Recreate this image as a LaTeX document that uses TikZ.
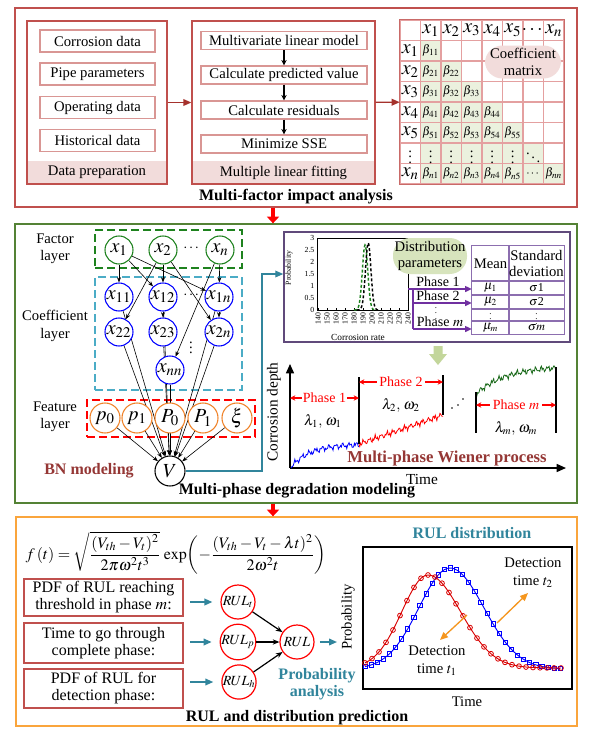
\documentclass[tikz,border=0pt]{standalone}
\usepackage{amsmath}
\usepackage{mathptmx}
\usepackage[no-math]{fontspec}
\setmainfont{Liberation Serif}
\usetikzlibrary{arrows.meta,calc}
\definecolor{secred}{RGB}{192,80,77}
\definecolor{boxpink}{RGB}{217,150,148}
\definecolor{bandpink}{RGB}{242,220,219}
\definecolor{darkred}{RGB}{165,50,45}
\definecolor{secgreen}{RGB}{84,130,53}
\definecolor{secorange}{RGB}{250,165,60}
\definecolor{cellgreen}{RGB}{235,241,222}
\definecolor{gridpink}{RGB}{228,160,160}
\definecolor{lgreen}{RGB}{215,228,189}
\definecolor{tealc}{RGB}{49,133,156}
\definecolor{purp}{RGB}{112,48,160}
\definecolor{purpl}{RGB}{140,110,175}
\definecolor{purbox}{RGB}{96,74,123}
\definecolor{bnred}{RGB}{149,55,53}
\definecolor{cyandash}{RGB}{75,172,198}
\definecolor{featorange}{RGB}{240,130,40}
\definecolor{fgreen}{RGB}{30,130,30}
\definecolor{arrgreen}{RGB}{195,214,155}
\definecolor{orarrow}{RGB}{245,150,30}
\pgfdeclarelayer{bg}
\pgfsetlayers{bg,main}
\tikzset{
 sz/.style 2 args={minimum width=#1*0.75pt,minimum height=#2*0.75pt,inner sep=0pt},
 sect/.style={draw=#1,line width=1pt},
 item/.style={draw=boxpink,line width=1pt,sz={115}{22}},
 fitem/.style={draw=boxpink,line width=1pt,sz={166}{18}},
 outerbox/.style={draw=secred,line width=1pt},
 band/.style={fill=bandpink},
 ttl/.style={font=\fontsize{12}{14}\selectfont\bfseries},
 fac/.style={circle,draw=fgreen,line width=0.8pt,fill=white,minimum size=28*0.75pt,inner sep=0pt,font=\fontsize{15}{15}\selectfont},
 coef/.style={fac,draw=blue},
 feat/.style={fac,draw=featorange,minimum size=30*0.75pt},
 vnode/.style={fac,draw=black,minimum size=30*0.75pt},
 bnedge/.style={black,line width=0.45pt,-{Stealth[length=4pt,width=3pt]}},
 lay/.style={align=center,font=\fontsize{11}{13}\selectfont},
 darrow/.style={darkred,line width=1pt,-{Triangle[length=6pt,width=5pt]}},
 farrow/.style={black,line width=0.8pt,-{Stealth[length=4pt,width=4pt]}},
 hdr/.style={inner sep=0pt,font=\fontsize{15}{15}\selectfont},
 bet/.style={inner sep=0pt,font=\fontsize{9}{9}\selectfont},
 dbox/.style={dashed,dash pattern=on 6pt off 3pt,line width=1pt},
 parrow/.style={purp,line width=1pt,-{Triangle[length=5pt,width=4.5pt]}},
 tarrow/.style={tealc,line width=1.2pt,-{Triangle[length=6pt,width=5pt]}},
 karrow/.style={black,line width=0.9pt,-{Stealth[length=5pt,width=4pt]}},
 rarrow/.style={red,line width=0.8pt,{Stealth[length=4pt,width=4pt]}-{Stealth[length=4pt,width=4pt]}},
 bigred/.style={red,line width=2.5pt,-{Triangle[length=5pt,width=9pt]}},
 rbox/.style={draw=secred,line width=1pt,align=center,font=\fontsize{12}{12.8}\selectfont},
 rcirc/.style={circle,draw=red,line width=0.9pt,fill=white,minimum size=34*0.75pt,inner sep=0pt,font=\fontsize{10.5}{11}\selectfont},
 tick/.style={inner sep=0.3pt,font=\fontsize{5.8}{6}\selectfont},
 oarrow/.style={orarrow,line width=1pt,-{Triangle[length=6pt,width=5pt]}},
 wlab/.style={font=\fontsize{11}{13}\selectfont},
 tcell/.style={inner sep=0pt,font=\fontsize{9.5}{10}\selectfont}
}
\begin{document}
\begin{tikzpicture}[x=0.75pt,y=-0.75pt,font=\fontsize{11}{13}\selectfont]
\useasboundingbox (0,0) rectangle (599,740);
\begin{pgfonlayer}{bg}
\fill[white] (0,0) rectangle (599,740);
\end{pgfonlayer}

% ---------------- sections ----------------
\node (sec1) [sect=secred, sz={562}{199}] at (296,107.5) {};
\node (sec2) [sect=secgreen, sz={562}{279}] at (296,363.5) {};
\node (sec3) [sect=secorange, sz={561}{209}] at (296.5,621.5) {};
\coordinate (xa) at (273,0);
\draw[bigred] (sec1.south -| xa) -- (sec2.north -| xa);
\draw[bigred] (sec2.south -| xa) -- (sec3.north -| xa);

% ---------------- section 1 ----------------
\node (dpband) [band, sz={140}{23}] at (97,172.5) {Data preparation};
\node (dp) [outerbox, sz={140}{163}] at (97,102.5) {};
\foreach \nm/\yy/\tx in {d1/41/Corrosion data, d2/74/Pipe parameters, d3/107.5/Operating data, d4/140.5/Historical data}
  \node (\nm) [item] at (97.5,\yy) {\tx};
\node (fband) [band, sz={183}{23}] at (283.5,172.5) {Multiple linear fitting};
\node (fit) [outerbox, sz={183}{163}] at (283.5,102.5) {};
\node (f1) [fitem] at (284,40.5) {Multivariate linear model};
\node (f2) [fitem] at (284,75) {Calculate predicted value};
\node (f3) [fitem] at (284,110) {Calculate residuals};
\node (f4) [fitem] at (284,144) {Minimize SSE};
\draw[farrow] (f1) -- (f2);
\draw[farrow] (f2) -- (f3);
\draw[farrow] (f3) -- (f4);

% matrix
\node (cm) [sz={164}{164}] at (482,102) {};
\foreach \ii in {1,...,5}{\foreach \jj in {1,...,\ii}{\fill[cellgreen] ({400+20.5*\jj},{20+20.5*\ii}) rectangle ++(20.5,20.5);}}
\foreach \jj in {1,...,6}{\fill[cellgreen] ({400+20.5*\jj},143) rectangle ++(20.5,20.5);}
\foreach \jj in {1,...,7}{\fill[cellgreen] ({400+20.5*\jj},163.5) rectangle ++(20.5,20.5);}
\foreach \ii in {0,...,8}{
  \draw[gridpink,line width=0.8pt] ({400+20.5*\ii},20) -- ({400+20.5*\ii},184);
  \draw[gridpink,line width=0.8pt] (400,{20+20.5*\ii}) -- (564,{20+20.5*\ii});}
\draw[secred!85,line width=1pt] (cm.north west) rectangle (cm.south east);
\foreach \tt [count=\jj] in {x_1,x_2,x_3,x_4,x_5,\cdots,x_n}
  \node (ch\jj) [hdr] at ({410.25+20.5*\jj},30.25) {$\tt$};
\foreach \tt [count=\ii] in {x_1,x_2,x_3,x_4,x_5}
  \node (rh\ii) [hdr] at (410.25,{30.25+20.5*\ii}) {$\tt$};
\node (rh6) [bet,font=\fontsize{11}{11}\selectfont] at (410.25,153.25) {$\vdots$};
\node (rh7) [hdr] at (410.25,173.75) {$x_n$};
\foreach \ii in {1,...,5}{\foreach \jj in {1,...,\ii}{
  \node (b\ii\jj) [bet] at ({410.25+20.5*\jj},{30.25+20.5*\ii}) {$\beta_{\ii\jj}$};}}
\foreach \jj in {1,...,5}{\node (b6\jj) [bet,font=\fontsize{11}{11}\selectfont] at ({410.25+20.5*\jj},153.25) {$\vdots$};}
\node (b66) [bet,font=\fontsize{11}{11}\selectfont] at (533.25,153.25) {$\ddots$};
\foreach \jj in {1,...,5}{\node (b7\jj) [bet] at ({410.25+20.5*\jj},173.75) {$\beta_{n\jj}$};}
\node (b76) [bet] at (533.25,173.75) {$\cdots$};
\node (b77) [bet] at (553.75,173.75) {$\beta_{nn}$};
\node (cmlab) [fill=bandpink, rounded corners=13pt, sz={76}{33}, align=center, font=\fontsize{11}{12.5}\selectfont] at (523,62) {Coefficient\\matrix};

\draw[darrow] (dp) -- (fit);
\draw[darrow] (fit) -- (cm);
\node (t1) [ttl] at (296,197) {Multi-factor impact analysis};

% ---------------- section 2 : BN ----------------
\node (lf) [lay] at (55,249) {Factor\\layer};
\node (lc) [lay] at (55,326) {Coefficient\\layer};
\node (lfe) [lay] at (55,417) {Feature\\layer};
\node (bnm) [font=\fontsize{12}{14}\selectfont\bfseries, text=bnred] at (89,471) {BN modeling};

\node (x1) [fac] at (119,250) {$x_1$};
\node (x2) [fac] at (163,250) {$x_2$};
\node (xn) [fac] at (220,250) {$x_n$};
\node (xdots) at (192,248) {$\cdots$};
\node (x11) [coef] at (119,297) {$x_{11}$};
\node (x12) [coef] at (163,297) {$x_{12}$};
\node (x1n) [coef] at (219,297) {$x_{1n}$};
\node (x22) [coef] at (119,332) {$x_{22}$};
\node (x23) [coef] at (163,332) {$x_{23}$};
\node (x2n) [coef] at (219,332) {$x_{2n}$};
\node (xnn) [coef] at (170,370) {$x_{nn}$};
\node (cdots) at (192,295) {$\cdots$};
\node (cvdots) at (191,344) {$\vdots$};
\node (p0) [feat] at (105,418) {$p_0$};
\node (p1) [feat] at (137,418) {$p_1$};
\node (P0) [feat] at (170,418) {$P_0$};
\node (P1) [feat] at (203,418) {$P_1$};
\node (xi) [feat] at (237,418) {$\xi$};
\node (V) [vnode] at (170,471) {$V$};

\begin{pgfonlayer}{bg}
\node (facbox) [draw=fgreen, dbox, sz={147}{38}] at (168.5,249) {};
\node (coefbox) [draw=cyandash, dbox, sz={147}{113}] at (168.5,333.5) {};
\node (featbox) [draw=red, dbox, sz={168}{37}] at (171,418.5) {};
\draw[bnedge] (x1) -- (x11);
\draw[bnedge] (x1) -- (x12);
\draw[bnedge] (x1) -- (x1n);
\draw[bnedge] (x2) -- (x12);
\draw[bnedge] (x2) -- (x22);
\draw[bnedge] (x2) -- (x2n);
\draw[bnedge] (xn) -- (x1n);
\draw[bnedge] (xn) -- (xnn);
\draw[bnedge] (x12) -- (x23);
\draw[bnedge] (x1n) -- (x2n);
\foreach \s in {x11,x12,x1n,x22,x23,x2n,xnn,p0,p1,P0,P1,xi}
  \draw[bnedge] (\s) -- (V);
\end{pgfonlayer}

% distribution box
\node (distbox) [draw=purbox, line width=1.1pt, sz={286}{110}] at (427,287) {};
\coordinate (vturn) at (262,274);
\draw[tealc,line width=1pt,-{Triangle[length=6pt,width=5pt]}] (V.east) -| (vturn) -- (vturn -| distbox.west);

\node (mp) [draw, line width=0.6pt, sz={91}{72}] at (362.5,274) {};
\foreach \v in {140,150,...,240}{
  \draw[line width=0.4pt] ({318+0.9*(\v-140)},310) -- ++(0,-2);
  \node (xt\v) [tick, rotate=90, anchor=east] at ({318+0.9*(\v-140)},312) {\v};}
\foreach \v/\lab in {0/0,0.5/0.5,1/1,1.5/1.5,2/2,2.5/2.5,3/3}{
  \node (yt\lab) [tick, anchor=east] at (315,{310-24*\v}) {\lab};}
\node (mpy) [tick, rotate=90] at (289,268) {Probability};
\node (mpx) [tick, font=\fontsize{7}{8}\selectfont] at (358,337) {Corrosion rate};
\draw[fgreen, line width=1.1pt, dash pattern=on 2.2pt off 1.6pt] plot[domain=180:205, samples=50] ({318+0.9*(\x-140)},{310-65*exp(-((\x-192.3)/3)^2/2)});
\draw[black, line width=1.1pt, dash pattern=on 2.2pt off 1.6pt] plot[domain=183:209, samples=50] ({318+0.9*(\x-140)},{310-67*exp(-((\x-195.8)/3)^2/2)});

\node (dparam) [fill=lgreen, rounded corners=13pt, sz={74}{36}, align=center, font=\fontsize{11}{12.5}\selectfont] at (430,256) {Distribution\\parameters};

\node (tbl) [sz={92}{88}] at (518,290) {};
\draw[purpl, line width=0.9pt] (tbl.north west) rectangle (tbl.south east);
\draw[purpl, line width=0.9pt] (509,246) -- (509,334);
\foreach \yy in {281,295,309,321} \draw[purpl, line width=0.9pt] (472,\yy) -- (564,\yy);
\node (tmean) [tcell,font=\fontsize{11}{12}\selectfont] at (490.5,263.5) {Mean};
\node (tsd) [tcell, align=center, font=\fontsize{11}{12.5}\selectfont] at (536.5,263.5) {Standard\\deviation};
\node (tm1) [tcell] at (490.5,288) {$\mu_1$};
\node (ts1) [tcell,font=\fontsize{9}{10}\selectfont] at (536.5,288) {$\sigma$1};
\node (tm2) [tcell] at (490.5,302) {$\mu_2$};
\node (ts2) [tcell,font=\fontsize{9}{10}\selectfont] at (536.5,302) {$\sigma$2};
\node (tmv) [tcell,font=\fontsize{6.5}{7}\selectfont] at (490.5,315) {$\vdots$};
\node (tsv) [tcell,font=\fontsize{6.5}{7}\selectfont] at (536.5,315) {$\vdots$};
\node (tmm) [tcell] at (490.5,327.5) {$\mu_m$};
\node (tsm) [tcell,font=\fontsize{9}{10}\selectfont] at (536.5,327.5) {$\sigma m$};

\coordinate (vb) at (413,289);
\coordinate (ph1s) at (mp.east |- vb);
\coordinate (ph2) at (413,303);
\coordinate (phm) at (413,329);
\draw[purp, line width=1pt] (vb) -- (phm);
\draw[parrow] (ph1s) -- (ph1s -| tbl.west);
\draw[parrow] (ph2) -- (ph2 -| tbl.west);
\draw[parrow] (phm) -- (phm -| tbl.west);
\node (ph1t) [inner sep=0pt,font=\fontsize{10.5}{12}\selectfont] at (438,282) {Phase 1};
\node (ph2t) [inner sep=0pt,font=\fontsize{10.5}{12}\selectfont] at (438,296) {Phase 2};
\node (phvt) [inner sep=0pt,font=\fontsize{6.5}{7}\selectfont] at (436,309.5) {$\vdots$};
\node (phmt) [inner sep=0pt,font=\fontsize{10.5}{12}\selectfont] at (440,322) {Phase $m$};

\fill[arrgreen] (433.5,346) -- (442.5,346) -- (442.5,354) -- (447,354) -- (438,365) -- (429,354) -- (433.5,354) -- cycle;

% Wiener process plot
\coordinate (O) at (290,468);
\coordinate (ytop) at (290,364);
\coordinate (xend) at (566,468);
\draw[line width=1.1pt, -{Triangle[length=7pt,width=6pt]}] (O) -- (ytop);
\draw[line width=1.1pt, -{Triangle[length=7pt,width=6pt]}] (O) -- (xend);
\node (cdep) [rotate=90, font=\fontsize{11.5}{13}\selectfont] at (274,412) {Corrosion depth};
\node (wtime) [inner sep=0pt, font=\fontsize{11.5}{13}\selectfont] at (422,479) {Time};
\draw[blue, line width=0.6pt] plot[domain=291:359, samples=90] (\x,{468-24*(1-exp(-(\x-290)/20))+1.8*sin((\x-290)*53)+1.2*sin((\x-290)*127+40)+0.8*sin((\x-290)*211)});
\draw[red, line width=0.6pt] plot[domain=359:443, samples=110] (\x,{444-29*(\x-359)/84+1.8*sin((\x-359)*61)+1.3*sin((\x-359)*149+20)+0.8*sin((\x-359)*173)});
\draw[fgreen!80!black, line width=0.6pt] plot[domain=476:556, samples=105] (\x,{394-26*(1-exp(-(\x-476)/30))/0.9305+1.8*sin((\x-476)*59)+1.3*sin((\x-476)*137+10)+0.8*sin((\x-476)*181)});
\coordinate (l1t) at (359,377); \coordinate (l1b) at (359,444);
\coordinate (l2t) at (443,375); \coordinate (l2b) at (443,415);
\coordinate (l3t) at (476,392); \coordinate (l3b) at (476,433);
\coordinate (l4t) at (556,367); \coordinate (l4b) at (556,433);
\draw[line width=0.8pt] (l1t) -- (l1b);
\draw[line width=0.8pt] (l2t) -- (l2b);
\draw[line width=0.8pt] (l3t) -- (l3b);
\draw[line width=0.8pt] (l4t) -- (l4b);
\coordinate (a1) at (290,398);
\draw[rarrow] (a1) -- node[fill=white, inner sep=1pt, font=\fontsize{10.5}{12}\selectfont] (wph1) {Phase 1} (a1 -| l1t);
\coordinate (a2) at (359,382);
\draw[rarrow] (a2) -- node[fill=white, inner sep=2pt, font=\fontsize{10.5}{12}\selectfont] (wph2) {Phase 2} (a2 -| l2t);
\coordinate (a3) at (476,405);
\draw[rarrow] (a3) -- node[fill=white, inner sep=2pt, font=\fontsize{10.5}{12}\selectfont] (wphm) {Phase $m$} (a3 -| l4t);
\node (lw1) [wlab] at (323,421) {$\lambda_1,\,\omega_1$};
\node (lw2) [wlab] at (401,405) {$\lambda_2,\,\omega_2$};
\node (lwm) [wlab] at (516,428) {$\lambda_m,\,\omega_m$};
\fill (452,408) circle (0.9);
\fill (458,405) circle (0.9);
\fill (463,399) circle (0.9);
\node (wien) [inner sep=0pt, font=\fontsize{12.5}{14}\selectfont\bfseries, text=bnred] at (447,458) {Multi-phase Wiener process};
\node (t2) [inner sep=0pt, ttl] at (297,491) {Multi-phase degradation modeling};

% ---------------- section 3 ----------------
\node (fml) [font=\fontsize{12}{14}\selectfont] at (176,553) {$f\,(t)=\sqrt{\dfrac{(V_{th}-V_t)^2}{2\pi\omega^2t^3}}\,\exp\!\left(-\dfrac{(V_{th}-V_t-\lambda t)^2}{2\omega^2t}\right)$};
\node (b1) [rbox, sz={159}{37}] at (103.5,597.5) {PDF of RUL reaching\\threshold in phase $m$:};
\node (b2) [rbox, sz={159}{40}] at (103.5,643) {Time to go through\\complete phase:};
\node (b3) [rbox, sz={159}{39}] at (103.5,688.5) {PDF of RUL for\\detection phase:};
\node (rt) [rcirc] at (238,602) {$RUL_t$};
\node (rpn) [rcirc] at (238,642) {$RUL_p$};
\node (rh) [rcirc] at (239,682) {$RUL_h$};
\node (rul) [rcirc] at (297,642) {$RUL$};
\draw[tarrow] ([xshift=5pt]b1.east |- rt) -- ([xshift=-6pt]rt.west);
\draw[tarrow] ([xshift=5pt]b2.east |- rpn) -- ([xshift=-6pt]rpn.west);
\draw[tarrow] ([xshift=5pt]b3.east |- rh) -- ([xshift=-6pt]rh.west);
\draw[karrow] (rt) -- (rul);
\draw[karrow] (rpn) -- (rul);
\draw[karrow] (rh) -- (rul);
\coordinate (rarr) at (337,642);
\draw[tarrow] ([xshift=4pt]rul.east) -- (rarr);
\node (pa) [font=\fontsize{12}{12.8}\selectfont\bfseries, text=tealc, align=center] at (317,684.5) {Probability\\analysis};

\node (rdt) [font=\fontsize{12}{14}\selectfont\bfseries, text=tealc] at (472,533) {RUL distribution};
\node (rdp) [draw, line width=0.8pt, sz={209}{142}] at (467.5,618) {};
\node (rdy) [rotate=90, font=\fontsize{11}{13}\selectfont] at (348,617) {Probability};
\node (rdx) [font=\fontsize{11}{13}\selectfont] at (467,702) {Time};
\draw[blue, line width=0.7pt] plot[domain=365:560, samples=60] (\x,{669-101*exp(-((\x-450)/(44+4*(\x>450)))^2)});
\foreach \k in {0,...,32}{
  \pgfmathsetmacro\xx{365+6.1*\k}
  \pgfmathsetmacro\yy{669-101*exp(-((\xx-450)/(44+4*(\xx>450)))^2)}
  \draw[blue, line width=0.6pt] ({\xx-2.1},{\yy-2.1}) rectangle ++(4.2,4.2);}
\draw[red!85!black, line width=0.7pt] plot[domain=365:561, samples=60] (\x,{668-93*exp(-((\x-428)/(37+9*(\x>428)))^2)});
\foreach \k in {0,...,28}{
  \pgfmathsetmacro\xx{365+7*\k}
  \pgfmathsetmacro\yy{668-93*exp(-((\xx-428)/(37+9*(\xx>428)))^2)}
  \draw[red!85!black, line width=0.6pt] (\xx,\yy) circle (2.4);}
\coordinate (o1s) at (467,615); \coordinate (o1e) at (440,640);
\coordinate (o2s) at (497,623); \coordinate (o2e) at (528,593);
\draw[oarrow] (o1s) -- (o1e);
\draw[oarrow] (o2s) -- (o2e);
\node (dt1) [align=center, font=\fontsize{11}{13.5}\selectfont] at (437,661) {Detection\\time $t_1$};
\node (dt2) [align=center, font=\fontsize{11}{13.5}\selectfont] at (533,572.5) {Detection\\time $t_2$};
\node (t3) [ttl] at (297,718) {RUL and distribution prediction};
\end{tikzpicture}
\end{document}
